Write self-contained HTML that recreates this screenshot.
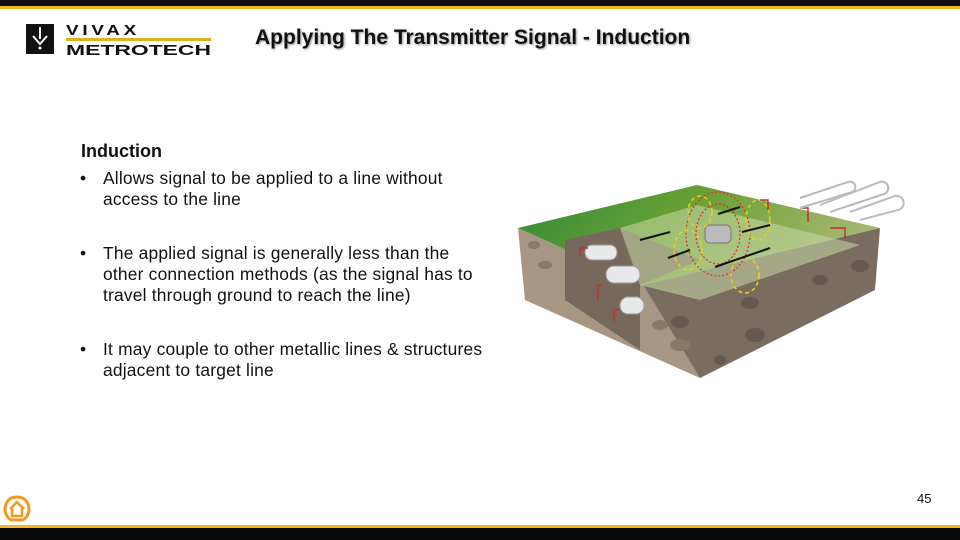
<!DOCTYPE html>
<html><head><meta charset="utf-8"><style>
body{margin:0;width:960px;height:540px;position:relative;background:#fff;font-family:"Liberation Sans",Arial,sans-serif;overflow:hidden}
.a{position:absolute}
.t{font-size:17.4px;color:#111;line-height:21px;letter-spacing:0.2px}
</style></head><body>
<div class="a" style="left:0;top:0;width:960px;height:6px;background:#111"></div>
<div class="a" style="left:0;top:6px;width:960px;height:3px;background:#f4b81c"></div>
<div class="a" style="left:0;top:525px;width:960px;height:3px;background:#f4b81c"></div>
<div class="a" style="left:0;top:528px;width:960px;height:12px;background:#0a0a0a"></div>
<!-- logo -->
<svg class="a" style="left:24px;top:22px" width="190" height="36">
<rect x="2" y="2" width="28" height="30" fill="#111"/>
<path d="M16 5 V17 M9 14 L16 22 L23 14" stroke="#fff" stroke-width="2" fill="none"/>
<circle cx="16" cy="26" r="1.5" fill="#fff"/>
<text x="42" y="13" font-family="Liberation Sans" font-weight="bold" font-size="15" letter-spacing="3" fill="#111" textLength="74" lengthAdjust="spacingAndGlyphs">VIVAX</text>
<rect x="42" y="16" width="145" height="3" fill="#e0b020"/>
<text x="42" y="33" font-family="Liberation Sans" font-weight="bold" font-size="15" fill="#111" textLength="145" lengthAdjust="spacingAndGlyphs">METROTECH</text>
</svg>
<div class="a" style="left:255px;top:26px;font-size:21px;font-weight:bold;color:#111;text-shadow:1px 1px 2px #999">Applying The Transmitter Signal - Induction</div>
<div class="a" style="left:81px;top:141px;font-size:18px;font-weight:bold;color:#111">Induction</div>
<div class="a t" style="left:80px;top:168px">•</div>
<div class="a t" style="left:103px;top:168px">Allows signal to be applied to a line without<br>access to the line</div>
<div class="a t" style="left:80px;top:243px">•</div>
<div class="a t" style="left:103px;top:243px">The applied signal is generally less than the<br>other connection methods (as the signal has to<br>travel through ground to reach the line)</div>
<div class="a t" style="left:80px;top:339px">•</div>
<div class="a t" style="left:103px;top:339px">It may couple to other metallic lines &amp; structures<br>adjacent to target line</div>
<div class="a" style="left:917px;top:491px;font-size:13px;color:#111">45</div>
<svg class="a" style="left:2px;top:494px" width="30" height="30"><path d="M15 3 C6 3 3 10 3 15 C3 22 8 26 10 26 L20 26 C22 26 27 22 27 15 C27 10 24 3 15 3Z" fill="none" stroke="#f09a20" stroke-width="3"/><path d="M8 15 L15 8 L22 15 M10 14 V22 H20 V14" stroke="#f09a20" stroke-width="2.5" fill="none"/></svg>
<!-- diagram -->
<svg class="a" style="left:0;top:0" width="960" height="540">
<defs><linearGradient id="g" x1="0" y1="0" x2="1" y2="0.3"><stop offset="0" stop-color="#2e8a3a"/><stop offset="0.5" stop-color="#6aa034"/><stop offset="1" stop-color="#a4b870"/></linearGradient></defs>
<polygon points="518,228 697,185 880,228 643,285" fill="url(#g)"/>
<polygon points="518,228 643,285 700,378 525,300" fill="#a89684"/>
<polygon points="643,285 880,228 875,290 700,378" fill="#7a6d60"/>
<polygon points="565,240 620,228 700,260 640,285 640,350 565,300" fill="#76695c"/>
<polygon points="620,228 697,205 860,245 700,300 640,285" fill="#c8d8a8" opacity="0.55"/>
<g fill="#5c5048" opacity="0.7"><ellipse cx="680" cy="322" rx="9" ry="6"/><ellipse cx="750" cy="303" rx="9" ry="6"/><ellipse cx="820" cy="280" rx="8" ry="5"/><ellipse cx="755" cy="335" rx="10" ry="7"/><ellipse cx="860" cy="266" rx="9" ry="6"/><ellipse cx="720" cy="360" rx="6" ry="5"/></g>
<g fill="#8a7868"><ellipse cx="534" cy="245" rx="6" ry="4"/><ellipse cx="545" cy="265" rx="7" ry="4"/><ellipse cx="660" cy="325" rx="8" ry="5"/><ellipse cx="680" cy="345" rx="10" ry="6"/></g>
<g fill="#e8e8e8" stroke="#999"><rect x="585" y="245" width="32" height="15" rx="7"/><rect x="606" y="266" width="34" height="17" rx="8"/><rect x="620" y="297" width="24" height="17" rx="8"/></g>
<rect x="705" y="225" width="26" height="18" rx="5" fill="#bbb" stroke="#777"/>
<g fill="none" stroke="#e03030" stroke-dasharray="2,2" stroke-width="1.3"><ellipse cx="718" cy="234" rx="22" ry="30"/><ellipse cx="718" cy="234" rx="32" ry="42"/></g>
<g fill="none" stroke="#e8d020" stroke-dasharray="4,3" stroke-width="1.5"><ellipse cx="758" cy="220" rx="12" ry="20"/><ellipse cx="688" cy="250" rx="14" ry="20"/><ellipse cx="745" cy="275" rx="14" ry="18"/><ellipse cx="700" cy="212" rx="12" ry="16"/></g>
<g stroke="#111" stroke-width="2"><line x1="640" y1="240" x2="670" y2="232"/><line x1="668" y1="258" x2="690" y2="250"/><line x1="742" y1="232" x2="770" y2="225"/><line x1="715" y1="267" x2="770" y2="248"/><line x1="718" y1="214" x2="740" y2="207"/></g>
<g stroke="#c03030" stroke-width="1.5" fill="none"><path d="M760 200 H768 V210"/><path d="M800 208 H808 V222"/><path d="M830 228 H845 V238"/><path d="M588 248 H580 V256"/><path d="M602 285 H598 V300"/><path d="M620 310 H614 V322"/></g>
<g stroke="#bbb" stroke-width="2" fill="none"><path d="M800 198 L848 182 A4 4 0 0 1 852 192 L800 208"/><path d="M820 205 L880 182 A5 5 0 0 1 884 194 L830 212"/><path d="M850 212 L895 196 A5 5 0 0 1 898 210 L860 220"/></g>
</svg>
</body></html>
